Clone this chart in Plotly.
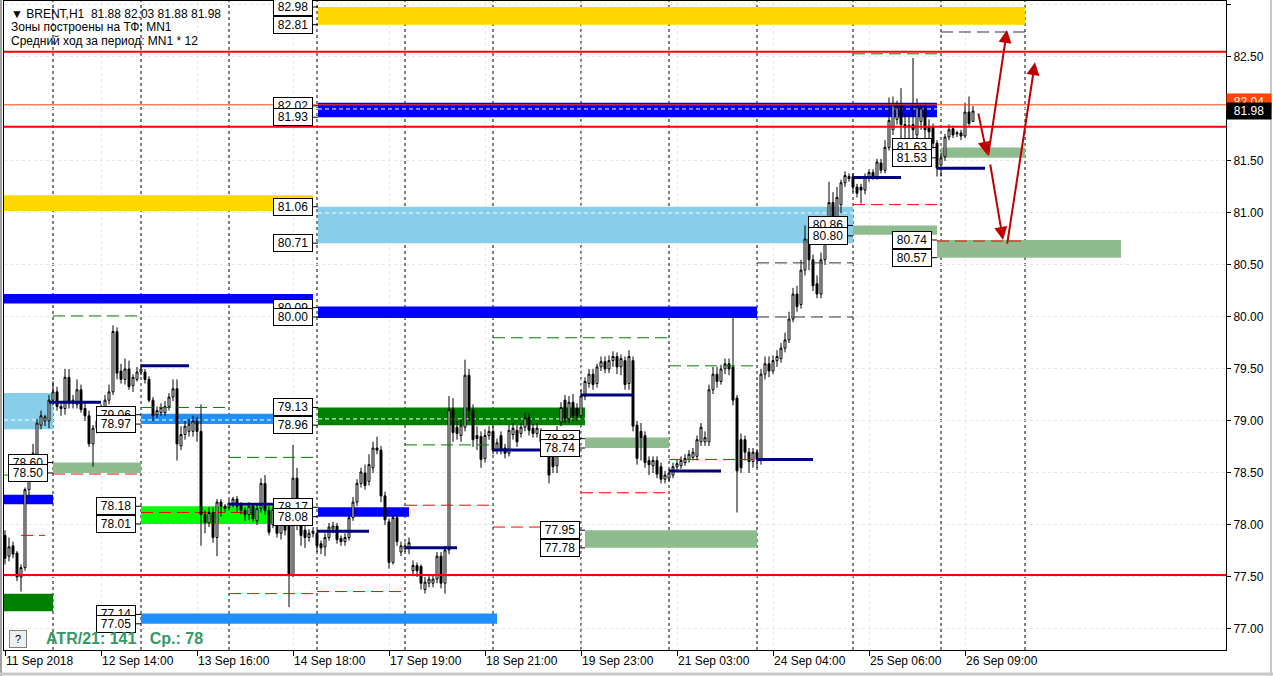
import plotly.graph_objects as go

# ---------------- DATA ----------------
opens = [77.90,77.70,77.80,77.73,77.50,77.59,78.34,78.62,78.68,78.96,79.00,79.00,79.20,79.28,79.14,79.12,79.42,79.17,79.16,79.30,
         79.12,79.05,78.78,78.93,79.00,79.12,79.20,79.28,79.86,79.48,79.40,79.50,79.34,79.40,79.47,79.47,79.40,79.20,79.06,79.08,
         79.08,79.14,79.23,79.31,78.76,78.87,78.90,78.90,79.00,78.90,78.10,78.02,78.12,77.88,78.22,78.18,78.17,78.21,78.25,78.20,
         78.14,78.10,78.18,78.04,78.16,78.40,78.14,78.00,78.16,77.92,78.02,78.00,77.52,78.45,78.00,77.95,77.88,77.92,77.92,77.82,
         77.79,77.88,77.96,77.99,77.87,77.84,77.88,78.07,78.22,78.40,78.50,78.42,78.55,78.74,78.72,78.28,78.03,77.64,78.07,77.74,
         77.77,77.78,77.56,77.61,77.60,77.38,77.44,77.44,77.48,77.70,77.44,77.76,79.11,78.94,78.86,78.94,79.44,79.10,78.86,78.85,
         78.64,78.86,78.90,78.72,78.86,78.74,78.69,78.87,78.91,78.88,78.94,79.03,78.93,78.88,78.88,78.75,78.75,78.77,78.57,78.99,
         79.20,79.02,79.18,79.12,79.05,79.24,79.36,79.45,79.36,79.52,79.57,79.50,79.58,79.62,79.52,79.58,79.36,79.58,78.96,78.90,
         78.86,78.62,78.57,78.62,78.56,78.44,78.45,78.48,78.56,78.57,78.60,78.63,78.65,78.66,78.80,78.80,78.80,79.30,79.45,79.38,
         79.50,79.55,79.52,79.22,78.82,78.82,78.70,78.61,78.70,78.62,79.45,79.55,79.48,79.58,79.60,79.70,79.78,79.98,80.22,80.12,
         80.45,80.75,80.55,80.32,80.22,80.55,80.75,81.10,80.95,81.08,81.29,81.35,81.35,81.25,81.25,81.22,81.34,81.39,81.35,81.48,
         81.41,81.63,81.80,81.90,82.04,81.85,81.84,81.85,81.75,81.88,82.00,81.83,81.83,81.67,81.46,81.54,81.73,81.81,81.76,81.77,
         81.74,81.97,81.88]
highs = [77.95,77.88,77.84,77.75,77.62,78.36,78.66,78.78,79.02,79.10,79.06,79.25,79.38,79.33,79.17,79.50,79.50,79.25,79.40,79.35,
         79.18,79.10,78.96,79.03,79.16,79.25,79.35,79.92,79.90,79.55,79.60,79.58,79.45,79.52,79.55,79.50,79.43,79.23,79.14,79.17,
         79.19,79.27,79.40,79.40,78.95,79.00,79.02,79.05,79.04,79.16,78.14,78.17,78.17,78.25,78.25,78.20,78.24,78.27,78.28,78.22,
         78.17,78.22,78.20,78.20,78.45,78.48,78.18,78.20,78.22,78.10,78.05,78.05,78.77,78.55,78.05,78.00,77.96,77.98,77.95,77.85,
         77.92,78.02,78.03,78.02,77.90,77.92,78.10,78.27,78.44,78.55,78.58,78.68,78.80,78.85,78.76,78.32,78.06,78.10,78.10,77.84,
         77.83,77.88,77.66,77.64,77.62,77.50,77.52,77.52,77.74,77.74,77.80,79.24,79.22,79.00,79.02,79.59,79.50,79.16,78.95,78.90,
         78.92,78.95,78.95,78.83,78.90,78.78,78.96,78.98,78.96,78.98,79.08,79.07,78.97,78.98,78.93,78.90,78.80,78.84,78.95,79.18,
         79.25,79.24,79.26,79.17,79.30,79.42,79.50,79.50,79.55,79.62,79.62,79.63,79.67,79.66,79.64,79.62,79.68,79.62,79.00,78.98,
         78.90,78.66,78.66,78.66,78.60,78.52,78.54,78.60,78.63,78.66,78.68,78.72,78.74,78.86,78.98,78.90,79.35,79.52,79.52,79.54,
         79.60,79.60,80.01,79.25,78.88,78.86,78.74,78.74,78.72,79.50,79.62,79.62,79.63,79.68,79.75,79.85,80.05,80.28,80.30,80.55,
         80.88,80.85,80.60,80.40,80.62,80.80,81.30,81.20,81.25,81.32,81.40,81.38,81.38,81.28,81.28,81.38,81.42,81.42,81.52,81.52,
         81.70,82.11,82.12,82.08,82.20,81.95,81.95,82.49,82.10,82.05,82.06,81.90,81.86,81.70,81.58,81.76,81.85,81.84,81.79,81.80,
         82.06,82.12,82.03]
lows = [77.62,77.65,77.68,77.46,77.36,77.56,78.26,78.58,78.65,78.92,78.95,78.93,79.15,79.10,79.05,79.06,79.12,79.12,79.12,79.08,
        79.00,78.75,78.56,78.88,78.97,79.08,79.16,79.25,79.40,79.36,79.35,79.30,79.28,79.38,79.44,79.36,79.18,79.00,79.03,79.05,
        79.05,79.10,79.19,78.62,78.72,78.82,78.85,78.85,78.80,77.80,77.92,77.98,77.83,77.70,78.08,78.12,78.14,78.17,78.12,78.10,
        78.04,78.05,78.03,78.00,78.12,78.10,77.90,77.97,77.88,77.86,77.90,77.21,77.50,77.95,77.80,77.78,77.84,77.88,77.74,77.72,
        77.70,77.85,77.92,77.82,77.80,77.80,77.85,78.04,78.18,78.36,78.34,78.38,78.50,78.68,78.22,78.00,77.58,77.62,77.80,77.70,
        77.74,77.72,77.52,77.50,77.38,77.34,77.40,77.40,77.44,77.39,77.34,77.72,78.80,78.82,78.80,78.90,79.00,78.75,78.72,78.55,
        78.60,78.82,78.68,78.68,78.68,78.64,78.66,78.82,78.75,78.84,78.90,78.86,78.84,78.84,78.75,78.70,78.40,78.50,78.50,78.95,
        78.98,78.98,79.00,79.00,79.02,79.20,79.32,79.30,79.32,79.48,79.46,79.46,79.52,79.45,79.44,79.30,79.30,78.90,78.58,78.62,
        78.55,78.48,78.50,78.45,78.40,78.40,78.42,78.45,78.52,78.54,78.57,78.60,78.62,78.62,78.76,78.76,78.76,79.26,79.32,79.35,
        79.45,79.44,79.15,78.12,78.50,78.62,78.50,78.55,78.55,78.58,79.40,79.42,79.45,79.52,79.56,79.66,79.75,79.95,80.05,80.08,
        80.40,80.45,80.25,80.18,80.18,80.50,80.70,80.85,80.90,81.00,81.25,81.30,81.20,81.15,81.09,81.18,81.30,81.32,81.32,81.38,
        81.38,81.60,81.75,81.85,81.70,81.70,81.72,81.72,81.70,81.80,81.72,81.70,81.62,81.35,81.35,81.50,81.70,81.72,81.73,81.70,
        81.72,81.84,81.88]
closes = [77.68,77.79,77.72,77.50,77.59,78.34,78.62,78.69,78.98,79.05,79.04,79.20,79.28,79.14,79.12,79.42,79.17,79.20,79.30,79.11,
          79.05,78.78,78.93,79.00,79.12,79.20,79.28,79.86,79.46,79.40,79.50,79.33,79.42,79.47,79.50,79.40,79.20,79.05,79.10,79.13,
          79.14,79.23,79.31,78.78,78.87,78.95,78.97,79.00,78.90,78.10,78.02,78.12,77.88,78.22,78.18,78.16,78.21,78.25,78.18,78.14,
          78.10,78.18,78.06,78.16,78.40,78.14,77.93,78.15,77.92,78.05,77.95,77.52,78.45,78.00,77.90,77.88,77.92,77.94,77.80,77.78,
          77.88,77.98,77.99,77.86,77.84,77.88,78.07,78.22,78.40,78.51,78.38,78.58,78.74,78.72,78.28,78.05,77.64,78.07,77.84,77.80,
          77.80,77.83,77.61,77.56,77.44,77.45,77.48,77.48,77.70,77.44,77.76,79.11,78.89,78.88,78.96,79.44,79.10,78.82,78.83,78.63,
          78.86,78.90,78.72,78.79,78.72,78.69,78.91,78.93,78.80,78.94,79.03,78.91,78.88,78.93,78.80,78.85,78.48,78.56,78.89,79.13,
          79.02,79.18,79.05,79.05,79.24,79.38,79.45,79.35,79.52,79.57,79.50,79.58,79.62,79.52,79.60,79.35,79.62,78.95,78.64,78.84,
          78.60,78.58,78.62,78.49,78.44,78.48,78.50,78.56,78.59,78.62,78.64,78.68,78.70,78.82,78.94,78.84,79.30,79.45,79.38,79.50,
          79.55,79.50,79.20,78.52,78.55,78.70,78.61,78.70,78.63,79.45,79.55,79.48,79.58,79.62,79.70,79.78,79.98,80.22,80.10,80.45,
          80.75,80.55,80.30,80.22,80.55,80.75,81.10,80.95,81.15,81.29,81.36,81.33,81.25,81.19,81.22,81.35,81.39,81.35,81.49,81.41,
          81.63,81.89,82.04,82.02,81.85,81.82,81.83,81.80,82.02,82.01,81.80,81.78,81.67,81.43,81.53,81.73,81.80,81.75,81.77,81.74,
          81.97,81.86,81.98]
bars = list(range(len(opens)))

time_labels = ["11 Sep 2018", "12 Sep 14:00", "13 Sep 16:00", "14 Sep 18:00", "17 Sep 19:00", "18 Sep 21:00",
               "19 Sep 23:00", "21 Sep 03:00", "24 Sep 04:00", "25 Sep 06:00", "26 Sep 09:00"]
time_label_bars = [0, 24, 48, 72, 96, 120, 144, 168, 192, 216, 240]
day_separator_bars = [12, 34, 56, 78, 100, 122, 144, 166, 188, 212, 234, 255]
price_ticks = [77.0, 77.5, 78.0, 78.5, 79.0, 79.5, 80.0, 80.5, 81.0, 81.5, 82.0, 82.5, 83.0]

header_lines = ["▼ BRENT,H1  81.88 82.03 81.88 81.98", "Зоны построены на ТФ: MN1", "Средний ход за период: MN1 * 12"]
atr_text = "ATR/21: 141   Ср.: 78"
ask_price = 82.04
bid_price = 81.98
key_levels = [82.55, 81.83, 77.52]

# zones: start bar, end bar, low, high, colour
zone_start = [78.25, -0.25, 78.25, 78.25, -0.25, 78.25, -0.25, 34, 78.25, 12, 145, -0.25, 34, 78.25, 145, -0.25, 34, 212, 233, 234]
zone_end = [255, 77, 233, 212, 77, 188, 12, 77, 145, 34, 166, 12, 77, 101, 188, 12, 123, 233, 279, 255]
zone_low = [82.81, 81.02, 81.92, 80.71, 80.13, 79.99, 78.92, 78.97, 78.96, 78.50, 78.74, 78.20, 78.01, 78.08, 77.78, 77.17, 77.05, 80.79, 80.57, 81.53]
zone_high = [82.98, 81.17, 82.06, 81.06, 80.22, 80.10, 79.27, 79.07, 79.13, 78.60, 78.84, 78.29, 78.18, 78.17, 77.95, 77.34, 77.15, 80.88, 80.74, 81.63]
zone_color = ["#FFD700", "#FFD700", "#0000FF", "#87CEEB", "#0000FF", "#0000FF", "#87CEEB", "#1E90FF", "#008000", "#8FBC8F",
              "#8FBC8F", "#0000FF", "#00FF00", "#0000FF", "#8FBC8F", "#008000", "#1E90FF", "#8FBC8F", "#8FBC8F", "#8FBC8F"]

# zone price labels: text, zone start bar, price
label_text = ["82.98", "82.81", "82.02", "81.93", "81.06", "80.71", "80.09", "80.00", "79.13", "78.96", "78.17", "78.08",
              "79.06", "78.97", "78.18", "78.01", "77.14", "77.05", "78.60", "78.50", "78.83", "78.74", "77.95", "77.78",
              "80.86", "80.80", "81.63", "81.53", "80.74", "80.57"]
label_bar = [78.25, 78.25, 78.25, 78.25, 78.25, 78.25, 78.25, 78.25, 78.25, 78.25, 78.25, 78.25,
             34, 34, 34, 34, 34, 34, 12, 12, 145, 145, 145, 145, 212, 212, 233, 233, 233, 233]
label_price = [82.98, 82.81, 82.03, 81.92, 81.06, 80.71, 80.09, 80.00, 79.13, 78.96, 78.17, 78.08,
               79.06, 78.97, 78.18, 78.01, 77.14, 77.05, 78.60, 78.50, 78.83, 78.74, 77.95, 77.78,
               80.88, 80.78, 81.63, 81.53, 80.74, 80.57]

# dashed levels: start bar, end bar, price, colour
dash_start = [12, 34, 56, -0.25, 100, 122, 166, 212, 12, 4, 56, 78, 100, 122, 144, 166, 212, 233, 234, 188, 188]
dash_end = [34, 56, 78, 5, 122, 166, 188, 233, 34, 10, 78, 100, 122, 144, 166, 188, 233, 255, 255, 212, 212]
dash_price = [80.01, 79.13, 78.65, 78.48, 78.77, 79.80, 79.53, 82.53, 78.49, 77.90, 77.34, 77.36, 78.19, 77.98, 78.31, 78.63,
              81.08, 80.73, 82.74, 80.52, 80.00]
dash_color = ["#008000"] * 8 + ["#FF0000"] * 10 + ["#333333"] * 3

# midlines inside zones (white dashed)
mid_start = [78.25, 78.25, -0.25, 34, 78.25]
mid_end = [233, 212, 12, 77, 145]
mid_price = [82.00, 81.00, 79.01, 79.01, 79.02]

# daily pivot segments (navy)
pivot_start = [11, 34, 56, 78, 100, 122, 144, 166, 188, 212, 233]
pivot_end = [24, 46, 67, 91, 113, 135, 157, 179, 202, 224, 245]
pivot_price = [79.18, 79.53, 78.20, 77.94, 77.78, 78.72, 79.25, 78.52, 78.63, 81.34, 81.43]

# forecast arrows
arrow_from_bar = [243.25, 245.75, 246.25, 250.5]
arrow_from_price = [81.97, 81.54, 81.48, 80.69]
arrow_to_bar = [245.5, 250.5, 249.5, 257.5]
arrow_to_price = [81.56, 82.76, 80.74, 82.45]

# ---------------- FIGURE ----------------
W, H = 1273, 676
ML, MR, MT, MB = 4, 47, 1, 26
PW, PH = W - ML - MR, H - MT - MB


def px_x(x):
    return (x - ML) / PW


def px_y(y):
    return (MT + PH - y) / PH


FONT = "Liberation Sans, Arial, sans-serif"

fig = go.Figure()
fig.add_trace(go.Candlestick(
    x=bars, open=opens, high=highs, low=lows, close=closes,
    increasing=dict(line=dict(color="black", width=1), fillcolor="white"),
    decreasing=dict(line=dict(color="black", width=1), fillcolor="black"),
    whiskerwidth=0, showlegend=False, hoverinfo="skip"))

shapes = []
for x0, x1, lo, hi, c in zip(zone_start, zone_end, zone_low, zone_high, zone_color):
    shapes.append(dict(type="rect", xref="x", yref="y", x0=x0, x1=x1, y0=lo, y1=hi,
                       fillcolor=c, line=dict(width=0), layer="between"))
for x0, x1, p in zip(mid_start, mid_end, mid_price):
    shapes.append(dict(type="line", xref="x", yref="y", x0=x0, x1=x1, y0=p, y1=p,
                       line=dict(color="white", width=1, dash="4px,3px"), layer="between"))
shapes.append(dict(type="line", xref="x", yref="y", x0=34, x1=62, y0=78.12, y1=78.12,
                   line=dict(color="#FF0000", width=1, dash="12px,6px"), layer="between"))
for b in day_separator_bars:
    shapes.append(dict(type="line", xref="x", yref="paper", x0=b, x1=b, y0=0, y1=1,
                       line=dict(color="black", width=1, dash="3px,3px"), layer="between"))
for x0, x1, p, c in zip(dash_start, dash_end, dash_price, dash_color):
    shapes.append(dict(type="line", xref="x", yref="y", x0=x0, x1=x1, y0=p, y1=p,
                       line=dict(color=c, width=1, dash="12px,6px"), layer="above"))
for x0, x1, p in zip(pivot_start, pivot_end, pivot_price):
    shapes.append(dict(type="line", xref="x", yref="y", x0=x0, x1=x1, y0=p, y1=p,
                       line=dict(color="#000080", width=3), layer="above"))
shapes.append(dict(type="line", xref="paper", yref="y", x0=0, x1=1, y0=ask_price, y1=ask_price,
                   line=dict(color="#FF4500", width=1), layer="above"))
for p in key_levels:
    shapes.append(dict(type="line", xref="paper", yref="y", x0=0, x1=1, y0=p, y1=p,
                       line=dict(color="#FF0000", width=2), layer="above"))
# window frame
shapes.append(dict(type="line", xref="paper", yref="paper", x0=px_x(1), x1=px_x(1), y0=px_y(0), y1=px_y(676),
                   line=dict(color="#A0A0A0", width=2)))
shapes.append(dict(type="line", xref="paper", yref="paper", x0=px_x(0), x1=px_x(1273), y0=px_y(674), y1=px_y(674),
                   line=dict(color="#C8C8C8", width=3)))
shapes.append(dict(type="line", xref="paper", yref="paper", x0=px_x(1271), x1=px_x(1271), y0=px_y(0), y1=px_y(676),
                   line=dict(color="#C8C8C8", width=2)))

ann = []
for t, b, p in zip(label_text, label_bar, label_price):
    ann.append(dict(x=b, y=p, xref="x", yref="y", text=t, showarrow=True, arrowhead=0, arrowwidth=1,
                    arrowcolor="black", ax=-25, ay=0, standoff=0, bgcolor="white", bordercolor="black",
                    borderwidth=1, borderpad=1, width=36, font=dict(family=FONT, size=12, color="black")))
for fb, fp, tb, tp in zip(arrow_from_bar, arrow_from_price, arrow_to_bar, arrow_to_price):
    ann.append(dict(x=tb, y=tp, xref="x", yref="y", ax=fb, ay=fp, axref="x", ayref="y", text="",
                    showarrow=True, arrowhead=2, arrowsize=1.3, arrowwidth=2, arrowcolor="#C00000", standoff=0))
for k, line in enumerate(header_lines):
    ann.append(dict(x=px_x(9), y=px_y(14 + 13.5 * k), xref="paper", yref="paper", xanchor="left", yanchor="middle",
                    text=line, showarrow=False, font=dict(family=FONT, size=12, color="black")))
ann.append(dict(x=px_x(9), y=px_y(639), xref="paper", yref="paper", xanchor="left", yanchor="middle",
                text="?", showarrow=False, bgcolor="#F0F0F0", bordercolor="#808080", borderwidth=1,
                width=14, height=14, font=dict(family=FONT, size=11, color="black")))
ann.append(dict(x=px_x(44), y=px_y(638), xref="paper", yref="paper", xanchor="left", yanchor="middle",
                text="<b>" + atr_text + "</b>", showarrow=False, font=dict(family=FONT, size=16, color="#339966")))
ann.append(dict(x=1, y=ask_price + 0.03, xref="paper", yref="y", xanchor="left", yanchor="middle", text=f"{ask_price:.2f}",
                showarrow=False, bgcolor="#FF4500", borderpad=1, width=42, font=dict(family=FONT, size=12, color="white")))
ann.append(dict(x=1, y=bid_price, xref="paper", yref="y", xanchor="left", yanchor="middle", text=f"{bid_price:.2f}",
                showarrow=False, bgcolor="black", borderpad=1, width=42, font=dict(family=FONT, size=12, color="white")))

fig.update_layout(
    width=W, height=H, autosize=False,
    margin=dict(l=ML, r=MR, t=MT, b=MB),
    paper_bgcolor="white", plot_bgcolor="white",
    shapes=shapes, annotations=ann, showlegend=False,
    xaxis=dict(range=[-0.25, 305.25], tickvals=time_label_bars, ticktext=time_labels,
               ticklabelposition="outside right", ticks="outside", ticklen=5, tickcolor="black",
               tickfont=dict(family=FONT, size=12, color="black"),
               showgrid=True, gridcolor="#E6E6E6", griddash="dot", zeroline=False,
               showline=True, linecolor="black", linewidth=1, mirror=True,
               rangeslider=dict(visible=False), fixedrange=True),
    yaxis=dict(range=[76.798, 83.038], side="right", tickvals=price_ticks, tickformat=".2f",
               ticks="outside", ticklen=4, tickcolor="black",
               tickfont=dict(family=FONT, size=12, color="black"),
               showgrid=True, gridcolor="#E6E6E6", griddash="dot", zeroline=False,
               showline=True, linecolor="black", linewidth=1, mirror=True, fixedrange=True),
)

fig.write_html("out.html", config={"displayModeBar": False},
               post_script="document.body.style.margin='0';document.body.style.overflow='hidden';")
